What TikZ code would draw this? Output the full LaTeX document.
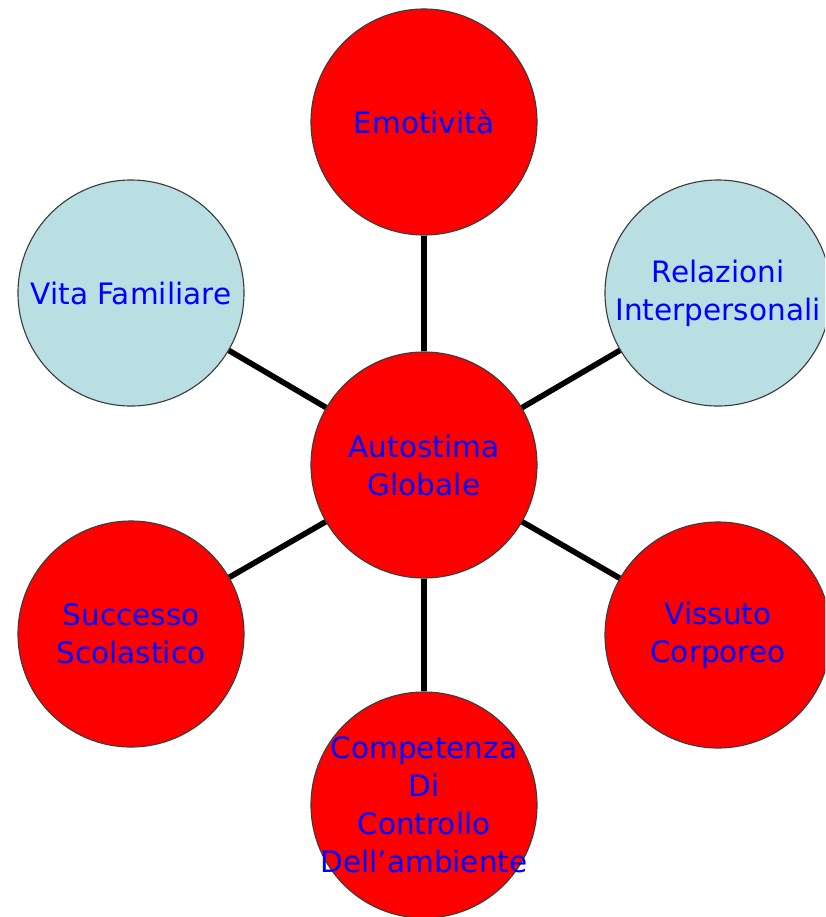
\documentclass[tikz,border=0pt]{standalone}
\usepackage{fontspec}
\setmainfont{DejaVu Sans}
\usetikzlibrary{positioning}

\definecolor{bubblered}{RGB}{255,0,0}
\definecolor{bubblecyan}{RGB}{185,223,227}
\definecolor{rimgray}{RGB}{60,60,60}

\begin{document}
\begin{tikzpicture}[
    x=0.025cm,
    y=-0.025cm,
    topic/.style={
      circle,
      draw=rimgray,
      line width=0.8pt,
      minimum size=5.65cm,
      inner sep=-40pt,
      align=center,
      text=blue,
      font=\fontsize{21}{27}\selectfont
    },
    hot/.style={topic, fill=bubblered},
    cool/.style={topic, fill=bubblecyan},
    spoke/.style={
      line width=4pt,
      black
    }
  ]

    % --- Frame (the picture is cut at right and bottom)
    \useasboundingbox (0,0) rectangle (825,917);
    \clip (0,0) rectangle (825,917);

    % --- Hub
    \node[hot] (autostima) at (424,465) {Autostima\\Globale};

    % --- Ring of areas
    \node[hot]  (emotivita)  at (424,122) {Emotività};
    \node[cool] (relazioni)  at (718,293) {Relazioni\\Interpersonali};
    \node[hot]  (vissuto)    at (718,635) {Vissuto\\Corporeo};
    \node[hot]  (competenza) at (424,805) {Competenza\\Di\\Controllo\\Dell’ambiente};
    \node[hot]  (successo)   at (131,634) {Successo\\Scolastico};
    \node[cool] (famiglia)   at (131,293) {Vita Familiare};

    % --- Spokes
    \draw[spoke] (autostima) -- (emotivita);
    \draw[spoke] (autostima) -- (relazioni);
    \draw[spoke] (autostima) -- (vissuto);
    \draw[spoke] (autostima) -- (competenza);
    \draw[spoke] (autostima) -- (successo);
    \draw[spoke] (autostima) -- (famiglia);

  \end{tikzpicture}
\end{document}
